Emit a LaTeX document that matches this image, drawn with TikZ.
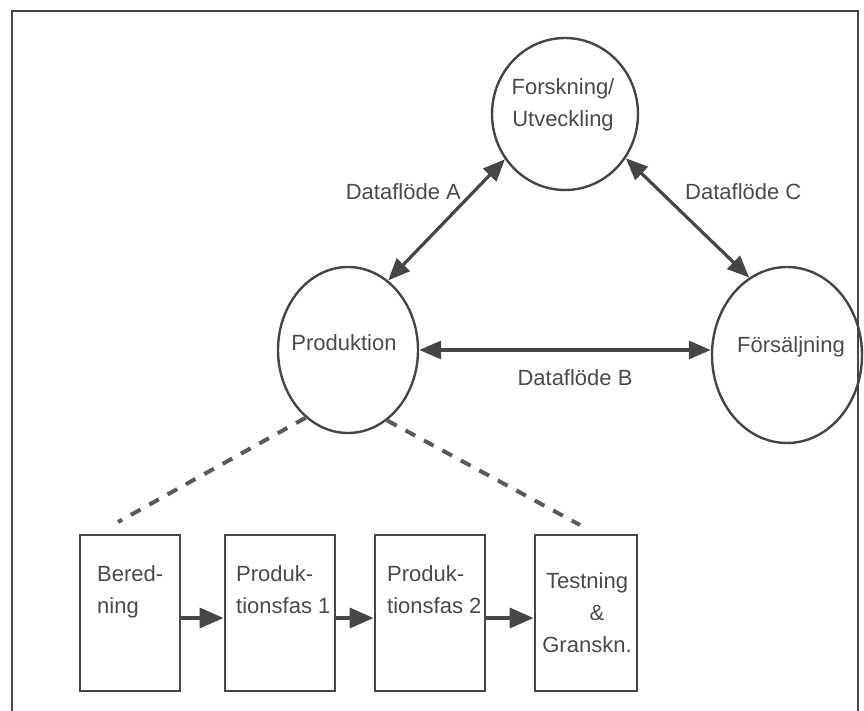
\documentclass[tikz,border=0pt]{standalone}
\usepackage{fontspec}
\setmainfont{Liberation Sans}
\usetikzlibrary{shapes.geometric,arrows.meta}
\definecolor{ink}{HTML}{464646}
\definecolor{txt}{HTML}{4a4a4a}
\definecolor{dashink}{HTML}{5a5a5a}
\begin{document}
\begin{tikzpicture}[x=1pt,y=-1pt,
  every node/.style={font=\fontsize{22}{32}\selectfont, text=txt, inner sep=0pt},
  unit/.style={draw=ink, line width=2.4pt, ellipse},
  phase/.style={draw=ink, line width=2.8pt, rectangle, minimum height=156pt},
  flow/.style={draw=ink, line width=3.2pt,
    {Triangle[length=22pt,width=18pt]}-{Triangle[length=22pt,width=18pt]}},
  chain/.style={draw=ink, line width=3.6pt, -{Triangle[length=24pt,width=20pt]}},
  zoomline/.style={draw=dashink, line width=4pt, dash pattern=on 11pt off 10pt},
]
\useasboundingbox (0,0) rectangle (864,710);

% outer frame
\draw[ink, line width=2pt] (12,712) -- (12,11) -- (858,11) -- (858,712);

% the three units
\node[unit, minimum width=146pt, minimum height=152pt] (fou)  at (565,114) {};
\node[unit, minimum width=140pt, minimum height=166pt] (prod) at (348,350) {};
\node[unit, minimum width=150pt, minimum height=176pt] (salj) at (787,355) {};

\node[align=center] (foutext) at (563,105) {Forskning/\\Utveckling};
\node (prodtext) at (344,343) {Produktion};
\node (saljtext) at (791,347) {Försäljning};

% data flows
\draw[flow] (prod.60) -- (fou.217);
\draw[flow] (fou.324) -- (salj.116);
\draw[flow] (prod.east) -- (prod.east -| salj.west);

\node[anchor=east] (flA) at (461,192) {Dataflöde A};
\node[anchor=west] (flC) at (685,192) {Dataflöde C};
\node (flB) at (575,378) {Dataflöde B};

% production phases
\node[phase, minimum width=100pt] (b1) at (130,613) {};
\node[phase, minimum width=110pt] (b2) at (280,613) {};
\node[phase, minimum width=110pt] (b3) at (430,613) {};
\node[phase, minimum width=102pt] (b4) at (586,613) {};

% phase labels (base anchor sits on the last line)
\node[anchor=base west, align=left] (t1) at (97,613) {Bered-\\ning};
\node[anchor=base west, align=left] (t2) at (236,613) {Produk-\\tionsfas 1};
\node[anchor=base west, align=left] (t3) at (387,613) {Produk-\\tionsfas 2};
\node[anchor=base, align=center] (t4) at (587,652) {Testning\\\hspace*{20pt}\&\\Granskn.};

\draw[chain] ([yshift=-5pt]b1.east) -- ([yshift=-5pt]b2.west);
\draw[chain] ([yshift=-5pt]b2.east) -- ([yshift=-5pt]b3.west);
\draw[chain] ([yshift=-5pt]b3.east) -- ([yshift=-5pt]b4.west);

% expansion of Produktion into its phases
\coordinate (zl) at (118,522);
\coordinate (zr) at (580,525);
\draw[zoomline] (prod.238) -- (zl);
\draw[zoomline] (prod.299) -- (zr);
\end{tikzpicture}
\end{document}
